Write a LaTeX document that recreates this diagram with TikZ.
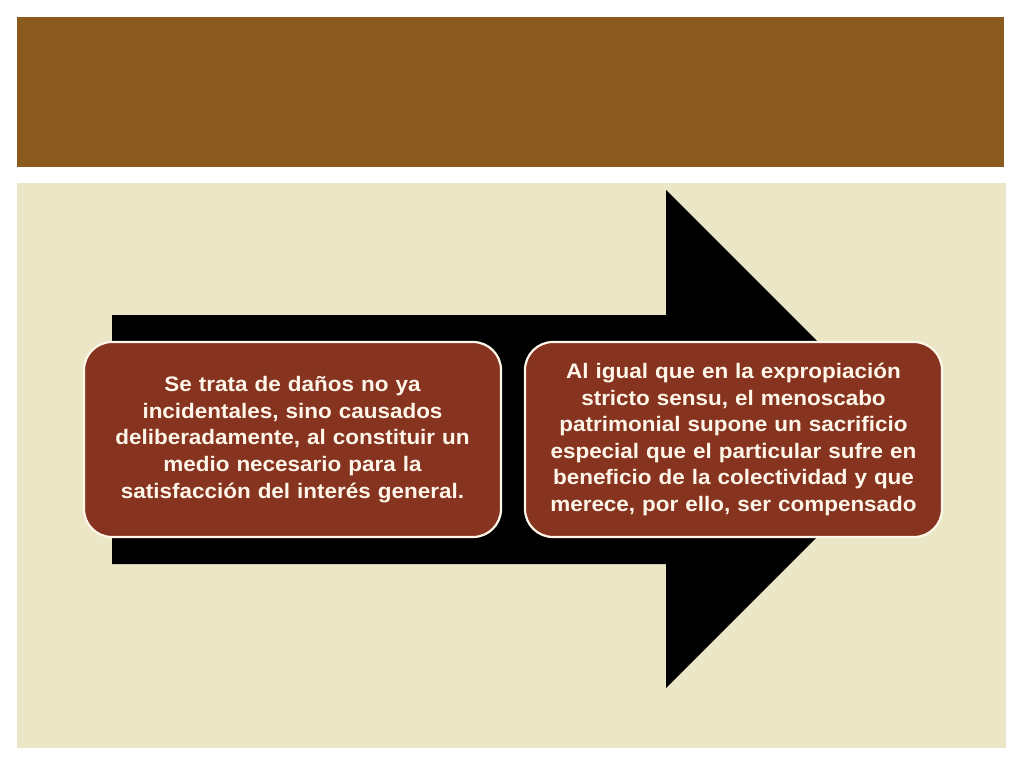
\documentclass[tikz,border=0pt]{standalone}
\usepackage{fontspec}
\setmainfont{Liberation Sans}[FakeStretch=1.07]
\definecolor{bandbrown}{HTML}{8A5A1F}
\definecolor{panelbeige}{HTML}{EAE6C6}
\definecolor{boxred}{HTML}{86331F}
\definecolor{textcream}{HTML}{FFF6EA}
\tikzset{
  infobox/.style={draw=textcream, line width=2.2pt, fill=boxred, rounded corners=28pt,
    minimum width=417pt, minimum height=195pt, text width=410pt, align=center,
    text=textcream, font=\fontsize{21}{26.6}\selectfont\bfseries, inner sep=0pt}
}
\begin{document}
\begin{tikzpicture}[x=1pt,y=-1pt]
\useasboundingbox (0,0) rectangle (1024,768);
\fill[white] (0,0) rectangle (1024,768);
\fill[bandbrown] (17,17) rectangle (1004,167);
\fill[panelbeige] (17,183) rectangle (1006,748);
\fill[black] (112,315) -- (666,315) -- (666,190) -- (915,439) -- (666,688) -- (666,564) -- (112,564) -- cycle;
\node[infobox] (left) at (292.5,439.5) {Se trata de daños no ya\\incidentales, sino causados\\deliberadamente, al constituir un\\medio necesario para la\\satisfacción del interés general.};
\node[infobox] (right) at (733.5,439.5) {Al igual que en la expropiación\\stricto sensu, el menoscabo\\patrimonial supone un sacrificio\\especial que el particular sufre en\\beneficio de la colectividad y que\\merece, por ello, ser compensado};
\end{tikzpicture}
\end{document}
